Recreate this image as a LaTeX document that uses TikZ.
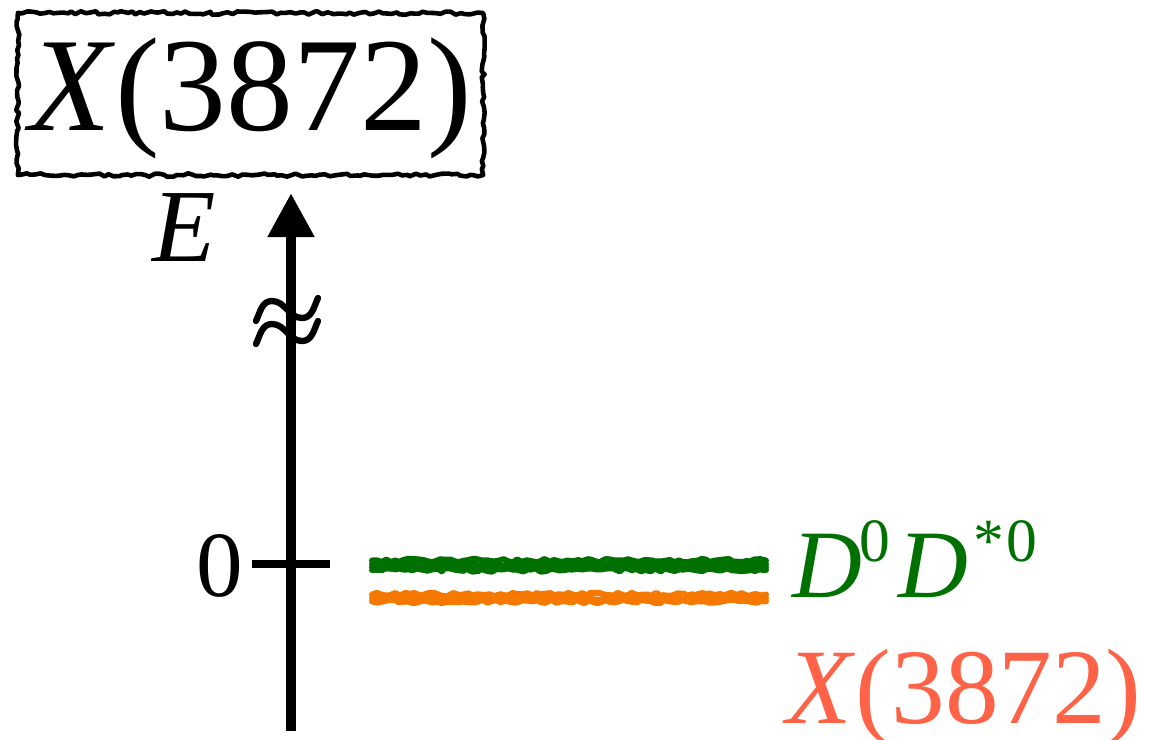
\documentclass[tikz,border=0pt]{standalone}
\usepackage{fontspec}
\setmainfont{Liberation Serif}
\usetikzlibrary{arrows.meta,decorations.pathmorphing}

\definecolor{levelgreen}{RGB}{0,112,0}
\definecolor{levelorange}{RGB}{245,120,0}
\definecolor{labeltomato}{RGB}{255,99,71}

\tikzset{
  roughline/.style={decorate,decoration={random steps,segment length=1.3pt,amplitude=0.5pt}},
  levelline/.style={roughline,line width=1.7pt,line cap=round},
  sizedtext/.style={inner sep=0pt,font=\fontsize{#1}{#1}\selectfont}
}
\newcommand{\supsm}[1]{\raisebox{10pt}{\fontsize{17.5}{17.5}\selectfont #1}}

\begin{document}
\begin{tikzpicture}[x=0.01cm,y=-0.01cm,line join=round]
  \useasboundingbox (0,0) rectangle (1155,740);
  % title box
  \node[draw,roughline,line width=1.3pt,minimum width=4.65cm,minimum height=1.62cm,
        text height=29pt,text depth=8pt,inner sep=0pt,
        font=\fontsize{38}{38}\selectfont] (title) at (250.5,94) {\textit{X}(3872)};
  % energy axis
  \coordinate (axisbot) at (291,731);
  \coordinate (axistop) at (291,193);
  \draw[line width=3.1pt,-{Triangle[length=4.4mm,width=4.4mm]}] (axisbot) -- (axistop);
  \node[sizedtext=29.5,anchor=base west] (elabel) at (152,262) {\textit{E}};
  % axis break
  \foreach \dy in {0,23}{
    \draw[line width=1.8pt,line cap=round,yshift=-\dy*0.01cm]
      (256,321) to[out=65,in=180] (272,301) to[out=0,in=180] (302,318) to[out=0,in=245] (318,298);
  }
  % zero tick
  \coordinate (tickl) at (252,564);
  \coordinate (tickr) at (330,564);
  \draw[line width=2.3pt] (tickl) -- (tickr);
  \node[sizedtext=26.5,anchor=base west] (zerolabel) at (196,596) {0};
  % levels
  \coordinate (greenl) at (372,565);
  \coordinate (greenr) at (766,565);
  \coordinate (orangel) at (372,598);
  \coordinate (oranger) at (766,598);
  \foreach \dy in {-5,-2,1,4.5}{
    \draw[levelline,levelgreen] ([yshift=\dy*0.01cm]greenl) -- ([yshift=\dy*0.01cm]greenr);
  }
  \foreach \dy in {-3.5,0,3.5}{
    \draw[levelline,levelorange] ([yshift=\dy*0.01cm]orangel) -- ([yshift=\dy*0.01cm]oranger);
  }
  \node[sizedtext=27.5,anchor=base west,text=levelgreen] (ddlabel) at (792,597)
    {\textit{D}\kern-1pt\supsm{0}\kern2.5pt\textit{D}\kern1.5pt\supsm{*\kern0.5pt0}};
  \node[sizedtext=30.5,anchor=base west,text=labeltomato] (xlabel) at (786,723)
    {\textit{X}(3872)};
\end{tikzpicture}
\end{document}
